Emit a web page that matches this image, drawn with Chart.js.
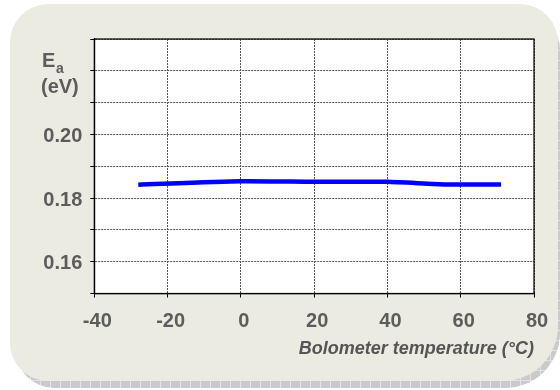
<!DOCTYPE html>
<html>
<head>
<meta charset="utf-8">
<script src="https://cdn.jsdelivr.net/npm/chart.js"></script>
<style>
    html, body { margin: 0; padding: 0; background: #ffffff; }
    #wrap { position: relative; width: 560px; height: 390px; }
</style>
</head>
<body>
<div id="wrap"><canvas id="eaChart" width="560" height="390"></canvas></div>
<script>
// Chart data
const temperatures = [-28, 0, 20, 40, 56, 71];
const activationEnergy = [0.1842, 0.1853, 0.1851, 0.1851, 0.1843, 0.1843];
const yLabelled = ['0.16', '0.18', '0.20'];
const xTitle = 'Bolometer temperature (°C)';

const textGray = '#5c5c5c';

// Rounded panel + shadow behind the chart
const panelPlugin = {
    id: 'panel',
    beforeDraw(chart) {
        const ctx = chart.ctx;
        ctx.save();

        // shadow with a small grid pattern
        const pc = document.createElement('canvas');
        pc.width = 10; pc.height = 10;
        const p = pc.getContext('2d');
        p.fillStyle = '#c9cacd';
        p.fillRect(0, 0, 10, 10);
        p.fillStyle = '#e3e4e6';
        p.fillRect(0, 0, 10, 1);
        p.fillRect(0, 0, 1, 10);
        ctx.fillStyle = ctx.createPattern(pc, 'repeat');
        ctx.beginPath();
        ctx.roundRect(16, 12, 544, 376, [38, 38, 55, 38]);
        ctx.fill();

        // cream panel
        ctx.fillStyle = '#ecebe1';
        ctx.beginPath();
        ctx.roundRect(10, 4, 548, 377, [38, 38, 55, 38]);
        ctx.fill();

        // white plot area
        const a = chart.chartArea;
        ctx.fillStyle = '#ffffff';
        ctx.fillRect(a.left, a.top, a.right - a.left, a.bottom - a.top);
        ctx.restore();
    },
    afterDraw(chart) {
        const ctx = chart.ctx;
        const a = chart.chartArea;
        ctx.save();
        ctx.strokeStyle = '#000000';
        ctx.lineWidth = 1.2;
        ctx.strokeRect(a.left, a.top, a.right - a.left, a.bottom - a.top);

        // E_a (eV) label
        ctx.fillStyle = textGray;
        ctx.textBaseline = 'alphabetic';
        ctx.textAlign = 'left';
        ctx.font = 'bold 20px "Liberation Sans", Arial, sans-serif';
        ctx.fillText('E', 42, 67);
        ctx.fillText('(eV)', 41, 93);
        ctx.font = 'bold 14px "Liberation Sans", Arial, sans-serif';
        ctx.fillText('a', 56, 73);
        ctx.restore();
    }
};

new Chart(document.getElementById('eaChart'), {
    type: 'line',
    data: {
        datasets: [{
            data: temperatures.map((t, i) => ({ x: t, y: activationEnergy[i] })),
            borderColor: '#0000ff',
            borderWidth: 4.5,
            pointRadius: 0,
            tension: 0.2,
            fill: false
        }]
    },
    options: {
        responsive: false,
        animation: false,
        layout: { padding: { left: 0, right: 26, top: 39, bottom: 0 } },
        plugins: {
            legend: { display: false },
            tooltip: { enabled: false }
        },
        scales: {
            x: {
                type: 'linear',
                min: -40,
                max: 80,
                afterFit(scale) { scale.height = 96.5; },
                ticks: {
                    stepSize: 20,
                    padding: 12,
                    labelOffset: 3,
                    color: textGray,
                    font: { family: '"Liberation Sans", Arial, sans-serif', size: 20, weight: 'bold' }
                },
                grid: {
                    color: '#555555',
                    lineWidth: 1,
                    tickLength: 4,
                    tickColor: '#000000'
                },
                border: { display: true, color: '#000000', width: 1.2, dash: [2, 1] },
                title: {
                    display: true,
                    text: xTitle,
                    align: 'end',
                    color: '#555555',
                    padding: { top: 0, bottom: 30 },
                    font: { family: '"Liberation Sans", Arial, sans-serif', size: 18, weight: 'bold', style: 'italic' }
                }
            },
            y: {
                min: 0.15,
                max: 0.23,
                afterFit(scale) { scale.width = 94.3; },
                ticks: {
                    stepSize: 0.01,
                    padding: 8,
                    labelOffset: 2,
                    color: textGray,
                    font: { family: '"Liberation Sans", Arial, sans-serif', size: 20, weight: 'bold' },
                    callback(v) {
                        const s = (Math.round(v * 100) / 100).toFixed(2);
                        return yLabelled.includes(s) ? s : '';
                    }
                },
                grid: {
                    color: '#555555',
                    lineWidth: 1,
                    tickLength: 4,
                    tickColor: '#000000'
                },
                border: { display: true, color: '#000000', width: 1.2, dash: [2, 1] }
            }
        }
    },
    plugins: [panelPlugin]
});
</script>
</body>
</html>
